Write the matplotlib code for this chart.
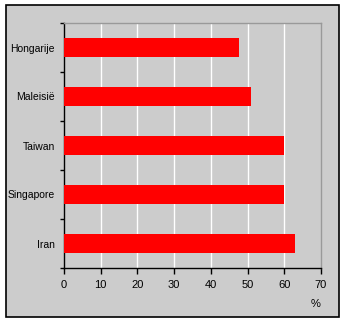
import matplotlib
matplotlib.use("Agg")
import matplotlib.pyplot as plt
from matplotlib.patches import Rectangle
import numpy as np

# Data
countries = ['Hongarije', 'Maleisië', 'Taiwan', 'Singapore', 'Iran']
values = [47.8, 50.8, 59.9, 59.9, 62.9]
x_ticks = [0, 10, 20, 30, 40, 50, 60, 70]

plt.rcParams['font.family'] = ['Liberation Sans', 'DejaVu Sans']

W, H = 345, 324
fig = plt.figure(figsize=(W / 100, H / 100), dpi=100)
fig.patch.set_facecolor('white')

# grey chart box with black frame (behind the axes)
fig.patches.append(Rectangle((6 / W, 1 - 317 / H), 333 / W, 312 / H,
                             transform=fig.transFigure, facecolor='#cccccc',
                             edgecolor='black', linewidth=1.2, zorder=-1))

ax = fig.add_axes([64 / W, 1 - 268 / H, 257 / W, 245 / H])
ax.set_facecolor('#cccccc')

pos = np.arange(len(countries))[::-1]
ax.barh(pos, values, height=0.4, color='#ff0000', zorder=3)

ax.set_xlim(0, 70)
ax.set_ylim(-0.5, len(countries) - 0.5)
ax.set_xticks(x_ticks)
ax.set_xticklabels([str(t) for t in x_ticks], fontsize=8)
for t in x_ticks[1:-1]:
    ax.axvline(t, color='white', linewidth=1, zorder=1)

ax.set_yticks(pos)
ax.set_yticklabels(countries, fontsize=7.5)
ax.set_yticks(np.arange(-0.5, len(countries)), minor=True)
ax.tick_params(axis='y', which='major', length=0, pad=6.5)
ax.tick_params(axis='y', which='minor', length=3, width=1, color='black')
ax.tick_params(axis='x', length=4, width=1, pad=5)

for s in ['left', 'bottom']:
    ax.spines[s].set_color('black')
    ax.spines[s].set_linewidth(1)
for s in ['top', 'right']:
    ax.spines[s].set_color('#999999')
    ax.spines[s].set_linewidth(1)

fig.text(316 / W, 1 - 304 / H, '%', fontsize=8, ha='center', va='center')

fig.savefig('out.png', dpi=100)
